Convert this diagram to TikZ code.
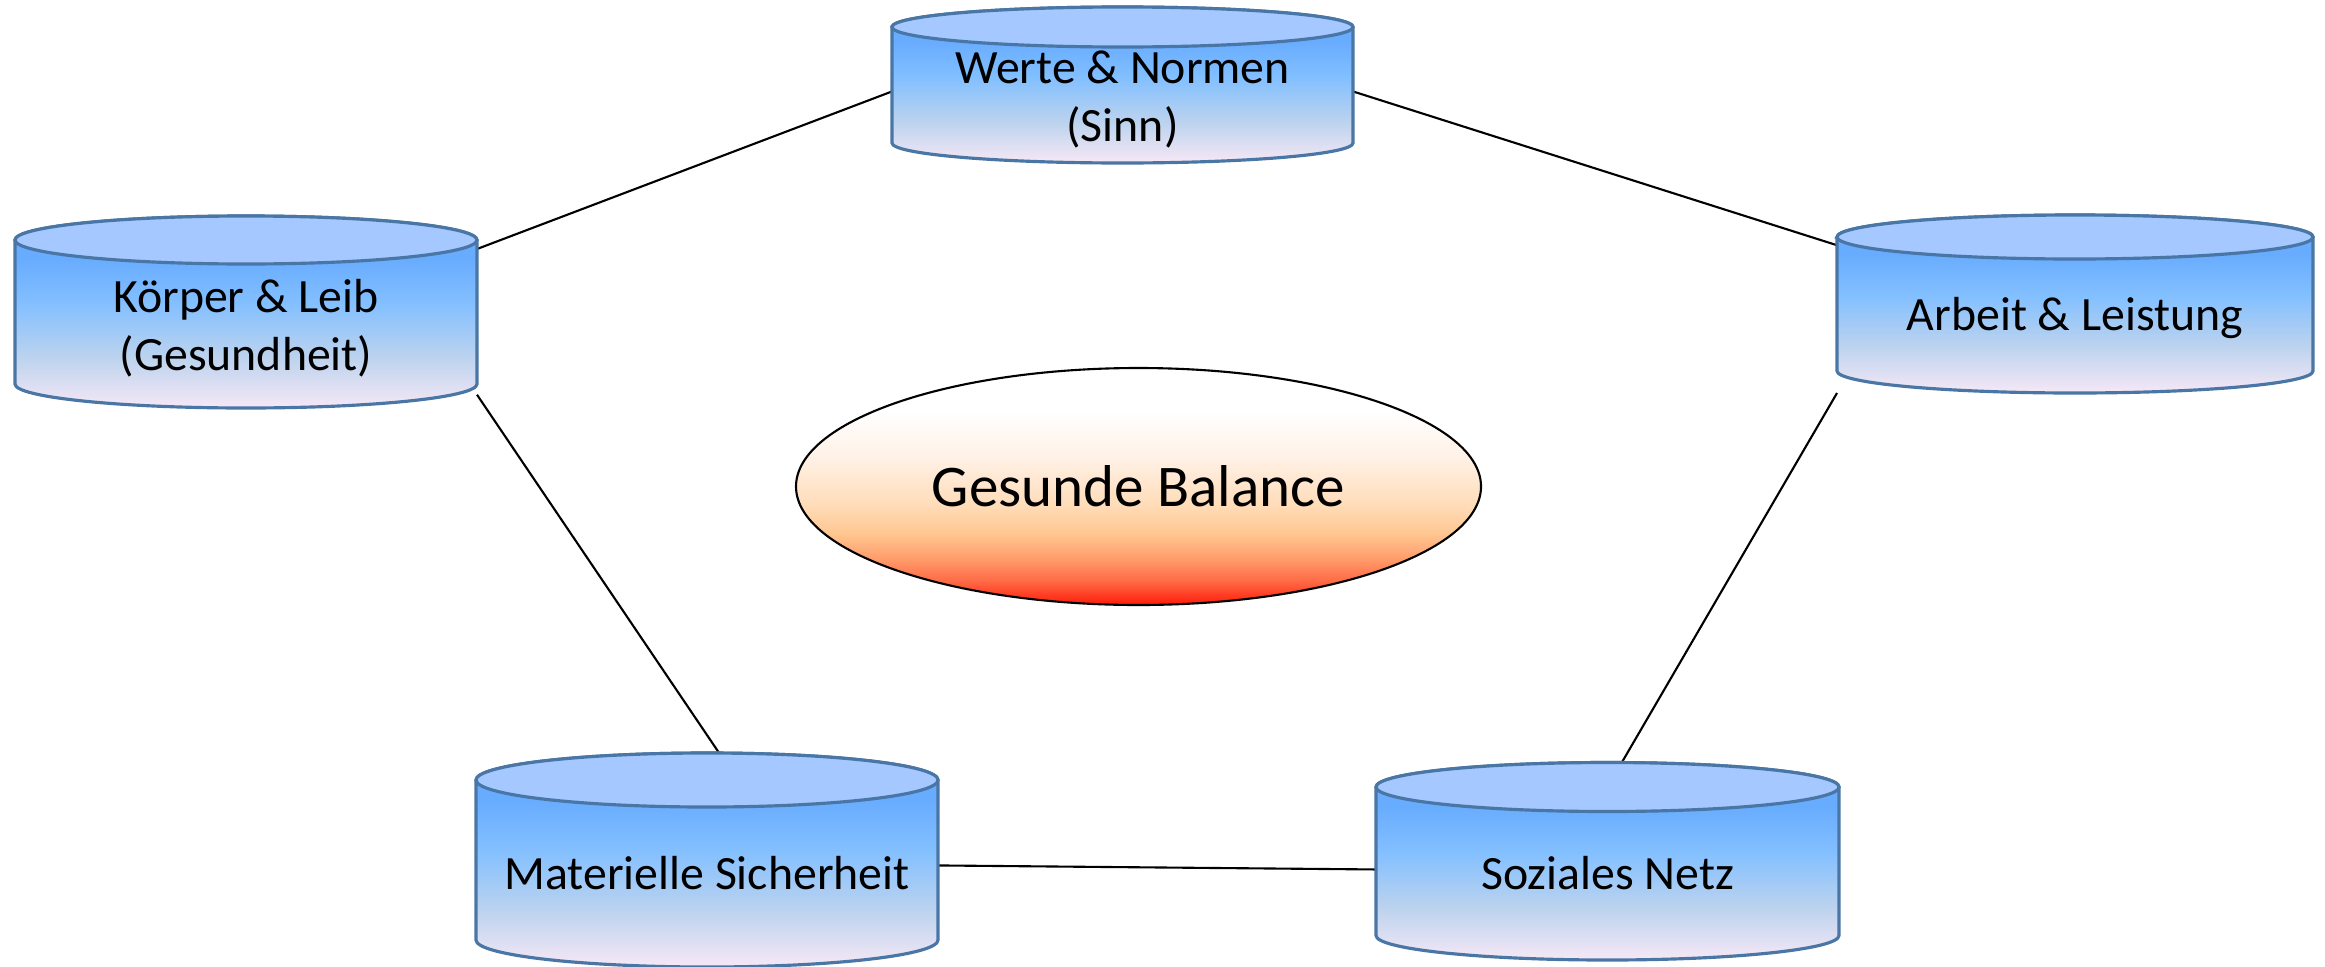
\documentclass[tikz,border=0pt]{standalone}
\usepackage{fontspec}
\setmainfont{Carlito}
\usetikzlibrary{shapes.geometric}
\pgfdeclarelayer{lines}
\pgfdeclarelayer{tanks}
\pgfsetlayers{lines,tanks,main}
\definecolor{tanktop}{HTML}{68ACFF}
\definecolor{tanklight}{HTML}{84C0FF}
\definecolor{tankmid}{HTML}{BDD3EE}
\definecolor{tanklow}{HTML}{F6E8F6}
\definecolor{tankend}{HTML}{A4C8FF}
\definecolor{tankline}{HTML}{4A76A6}
\definecolor{balred}{HTML}{FF1A0A}
\definecolor{balorange}{HTML}{FF6A45}
\definecolor{balsalmon}{HTML}{FF9E6C}
\definecolor{balpeach}{HTML}{FFC690}
\definecolor{balcream}{HTML}{FFDCB8}
\definecolor{balpale}{HTML}{FFF1E6}
\pgfdeclareverticalshading{tankshade}{100bp}{color(0bp)=(tanklow); color(25bp)=(tanklow); color(38bp)=(tankmid); color(52bp)=(tanklight); color(64bp)=(tanktop); color(100bp)=(tanktop)}
\pgfdeclareverticalshading{balanceshade}{100bp}{color(0bp)=(balred); color(25bp)=(balred); color(30bp)=(balorange); color(35bp)=(balsalmon); color(40bp)=(balpeach); color(46bp)=(balcream); color(56bp)=(balpale); color(66bp)=(white); color(100bp)=(white)}
\tikzset{
	link/.style = {draw, line width=0.6pt},
}

\begin{document}
\begin{tikzpicture}[
	tank/.style = {rectangle, align=center, inner sep=0, outer sep=0, font=\fontsize{13.6}{16.6}\selectfont},
	balance/.style = {ellipse, draw, line width=0.6pt, shade, shading=balanceshade, minimum width=6.85cm, minimum height=2.37cm, inner sep=0, font=\fontsize{16.8}{18}\selectfont}]
\useasboundingbox (0,0) rectangle (23.25,9.66);
\node[tank, minimum width=4.61cm, minimum height=1.27cm] (werte) at (11.225,8.665) {Werte \& Normen\\(Sinn)};
\node[tank, minimum width=4.62cm, minimum height=1.59cm] (koerper) at (2.46,6.375) {Körper \& Leib\\(Gesundheit)};
\node[tank, minimum width=4.76cm, minimum height=1.50cm] (arbeit) at (20.75,6.48) {Arbeit \& Leistung};
\node[tank, minimum width=4.62cm, minimum height=1.87cm] (materiell) at (7.07,0.925) {Materielle Sicherheit};
\node[tank, minimum width=4.63cm, minimum height=1.73cm] (sozial) at (16.075,0.925) {Soziales Netz};
\node[balance] (balance) at (11.385,4.795) {Gesunde Balance};
% cylinders behind the labels
\begin{pgfonlayer}{tanks}
\foreach \tank/\hw/\r/\up in {werte/2.305/0.2/0.09, koerper/2.31/0.24/0.09, arbeit/2.38/0.22/0.06, materiell/2.31/0.27/0, sozial/2.315/0.245/0}{
	\shade[shading=tankshade, draw=tankline, line width=0.9pt] ([yshift=\up cm]\tank.north west) -- ([yshift=\r cm]\tank.south west)
		arc[start angle=180, end angle=360, x radius=\hw cm, y radius=\r cm] -- ([yshift=\up cm]\tank.north east)
		arc[start angle=0, end angle=180, x radius=\hw cm, y radius=\r cm] -- cycle;
	\filldraw[fill=tankend, draw=tankline, line width=0.9pt] ([yshift=\up cm]\tank.north) ellipse[x radius=\hw cm, y radius=\r cm];
}
\end{pgfonlayer}
% connections
\begin{pgfonlayer}{lines}
\draw[link] (koerper.north east) -- (werte.178);
\draw[link] (werte.2) -- (arbeit.163);
\draw[link] (koerper.-16) -- (materiell.72);
\draw[link] (arbeit.south west) -- (sozial.north);
\draw[link] (materiell.2) -- (sozial.179);
\end{pgfonlayer}
\end{tikzpicture}
\end{document}
